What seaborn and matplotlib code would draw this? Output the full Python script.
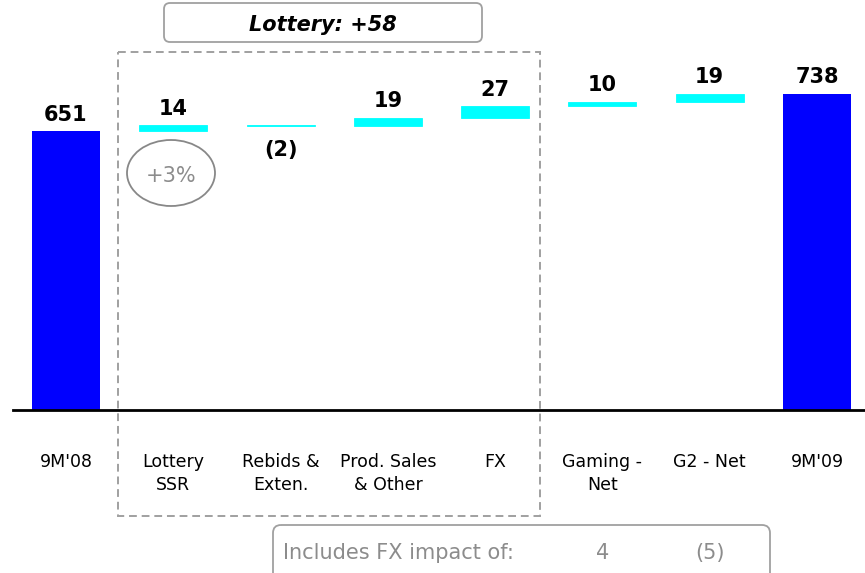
import pandas as pd
import matplotlib.pyplot as plt
import matplotlib.transforms as mtransforms
import seaborn as sns
from matplotlib.patches import FancyBboxPatch, Rectangle, Ellipse

W, H = 865, 573

CATEGORIES = ["9M'08", "Lottery\nSSR", "Rebids &\nExten.", "Prod. Sales\n& Other",
              "FX", "Gaming -\nNet", "G2 - Net", "9M'09"]
STEPS = [651, 14, -2, 19, 27, 10, 19, 738]
IS_TOTAL = [True, False, False, False, False, False, False, True]
LABELS = ["651", "14", "(2)", "19", "27", "10", "19", "738"]

LOTTERY_NOTE = "Lottery: +58"
SSR_GROWTH = "+3%"
FX_NOTE = "Includes FX impact of:"
FX_IMPACT_CATS = ["Gaming -\nNet", "G2 - Net"]
FX_IMPACT_VALUES = ["4", "(5)"]

TOTAL_COLOR = "#0000FF"
STEP_COLOR = "#00FFFF"
GREY = "#8C8C8C"


def waterfall_bases(steps, is_total):
    bases, running = [], 0
    for v, tot in zip(steps, is_total):
        if tot:
            bases.append(0)
            running = v
        else:
            bases.append(running)
            running += v
    return bases


def main():
    sns.set_style("white")
    plt.rcParams.update({"text.color": "black", "xtick.color": "black"})
    df = pd.DataFrame({"stage": CATEGORIES, "change": STEPS,
                       "base": waterfall_bases(STEPS, IS_TOTAL)})

    fig = plt.figure(figsize=(W / 100, H / 100), dpi=100)
    ax = fig.add_axes([13 / W, 1 - 409.5 / H, (W - 13) / W, 409.5 / H])

    sns.barplot(data=df, x="stage", y="change", order=CATEGORIES,
                bottom=df["base"].to_numpy(), color=STEP_COLOR, saturation=1,
                width=0.634, errorbar=None, linewidth=0, ax=ax)
    for patch, tot in zip(ax.patches, IS_TOTAL):
        if tot:
            patch.set_facecolor(TOTAL_COLOR)
        else:
            # keep very small steps visible as a thin line
            patch.set_edgecolor(STEP_COLOR)
            patch.set_linewidth(0.6)

    # value labels
    for i, row in df.iterrows():
        if row["change"] >= 0:
            ax.annotate(LABELS[i], (i, row["base"] + row["change"]), xytext=(0, 7.5),
                        textcoords="offset points", ha="center", va="baseline",
                        fontsize=15, fontweight="bold")
        else:
            ax.annotate(LABELS[i], (i, row["base"] + row["change"]), xytext=(0, -10),
                        textcoords="offset points", ha="center", va="top",
                        fontsize=15, fontweight="bold")

    ax.set_xlim(-0.494, 7.447)
    ax.set_ylim(0, 957.2)
    sns.despine(ax=ax, left=True)
    ax.spines["bottom"].set_linewidth(2)
    ax.spines["bottom"].set_color("black")
    ax.set_yticks([])
    ax.set_xlabel("")
    ax.set_ylabel("")
    ax.set_xticks(range(len(CATEGORIES)))
    ax.set_xticklabels(CATEGORIES, fontsize=12.5, linespacing=1.4, color="black")
    ax.tick_params(axis="x", length=0, pad=31)

    # pixel coordinates, origin top-left
    px = mtransforms.Affine2D().scale(0.01, -0.01).translate(0, H * 0.01) + fig.dpi_scale_trans

    fig.patches.append(FancyBboxPatch((164, 3), 318, 39, boxstyle="round,pad=0,rounding_size=6",
                                      fill=False, ec="#A0A0A0", lw=1.3, transform=px, figure=fig))
    fig.text(323, 31, LOTTERY_NOTE, transform=px, ha="center", va="baseline",
             fontsize=15, fontweight="bold", fontstyle="italic")

    fig.patches.append(Rectangle((118, 52), 422, 464, fill=False, ec="#A0A0A0", lw=1.4,
                                 ls=(0, (4, 2.5)), transform=px, figure=fig))

    fig.patches.append(Ellipse((171, 173), 88, 66, fill=False, ec="#888888", lw=1.3,
                               transform=px, figure=fig))
    fig.text(171, 182, SSR_GROWTH, transform=px, ha="center", va="baseline",
             fontsize=15, color=GREY)

    fig.patches.append(FancyBboxPatch((273, 525), 497, 60, boxstyle="round,pad=0,rounding_size=8",
                                      fill=False, ec="#A0A0A0", lw=1.3, transform=px, figure=fig))
    fig.text(283, 559, FX_NOTE, transform=px, ha="left", va="baseline", fontsize=15, color=GREY)
    blend = mtransforms.blended_transform_factory(ax.transData, px)
    for cat, val in zip(FX_IMPACT_CATS, FX_IMPACT_VALUES):
        fig.text(CATEGORIES.index(cat), 559, val, transform=blend, ha="center",
                 va="baseline", fontsize=15, color=GREY)

    fig.savefig("out.png", dpi=100)
    plt.close(fig)


if __name__ == "__main__":
    main()
